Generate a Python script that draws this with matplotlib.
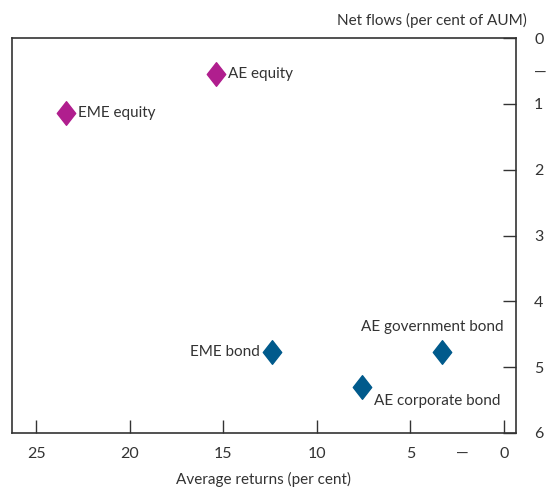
#!/usr/bin/env python3

import matplotlib
matplotlib.use("Agg")
import matplotlib.pyplot as plt
from matplotlib.path import Path

# data
names = ["AE equity", "EME equity", "EME bond", "AE government bond", "AE corporate bond"]
returns = [15.4, 23.4, 12.4, 3.3, 7.6]
flows = [0.55, 1.14, 4.77, 4.77, 5.30]
groups = ["equity", "equity", "bond", "bond", "bond"]

x_ticks = [25, 20, 15, 10, 5, 0]
y_ticks = [0, 1, 2, 3, 4, 5, 6]

colours = {"equity": "#B01E8E", "bond": "#005A8C"}
# label offsets in pixels (dx, dy, ha, va)
offsets = {
    "AE equity": (12, 0, "left", "center"),
    "EME equity": (12, 0, "left", "center"),
    "EME bond": (-12, 0, "right", "center"),
    "AE government bond": (61, 25, "right", "center"),
    "AE corporate bond": (12, -14, "left", "center"),
}

plt.rcParams["font.family"] = ["Lato", "DejaVu Sans"]
plt.rcParams["font.size"] = 11
ink = "#333333"

diamond = Path([(0, 1), (0.78, 0), (0, -1), (-0.78, 0), (0, 1)],
               [Path.MOVETO, Path.LINETO, Path.LINETO, Path.LINETO, Path.CLOSEPOLY])

fig = plt.figure(figsize=(5.49, 4.87), dpi=100)
ax = fig.add_axes([12 / 549, 1 - 433 / 487, 504 / 549, 395 / 487])

for name, x, y, g in zip(names, returns, flows, groups):
    ax.plot(x, y, marker=diamond, markersize=17, color=colours[g], linestyle="none")
    dx, dy, ha, va = offsets[name]
    ax.annotate(name, (x, y), xytext=(dx, dy), textcoords="offset pixels",
                ha=ha, va=va, color=ink)

ax.set_xlim(26.3, -0.65)
ax.set_ylim(6, 0)

ax.set_xticks(x_ticks)
ax.set_xticks([2.2], labels=["—"], minor=True)
ax.set_yticks(y_ticks)
ax.set_yticks([0.5], labels=["—"], minor=True)

ax.yaxis.tick_right()
ax.tick_params(axis="x", which="both", direction="in", width=1,
               color=ink, labelcolor=ink, pad=10, labelsize=11.5)
ax.tick_params(axis="y", which="both", direction="in", width=1,
               color=ink, labelcolor=ink, pad=13, labelsize=11.5)
ax.tick_params(which="major", length=9.5)
ax.tick_params(which="minor", length=0)
ax.tick_params(axis="y", which="minor", right=True, left=False,
               labelright=True, labelleft=False)
# labels sit outside the frame even though marks point inward
ax.tick_params(axis="x", which="both", pad=10)
ax.tick_params(axis="y", which="both", pad=13)
for lab in ax.get_yticklabels(which="both"):
    lab.set_horizontalalignment("left")

for s in ax.spines.values():
    s.set_color(ink)
    s.set_linewidth(1.2)

ax.set_xlabel("Average returns (per cent)", color=ink, labelpad=8)
fig.text(527 / 549, 1 - 20 / 487, "Net flows (per cent of AUM)", ha="right",
         va="center", color=ink, fontsize=11)

fig.savefig("out.png", dpi=100)
